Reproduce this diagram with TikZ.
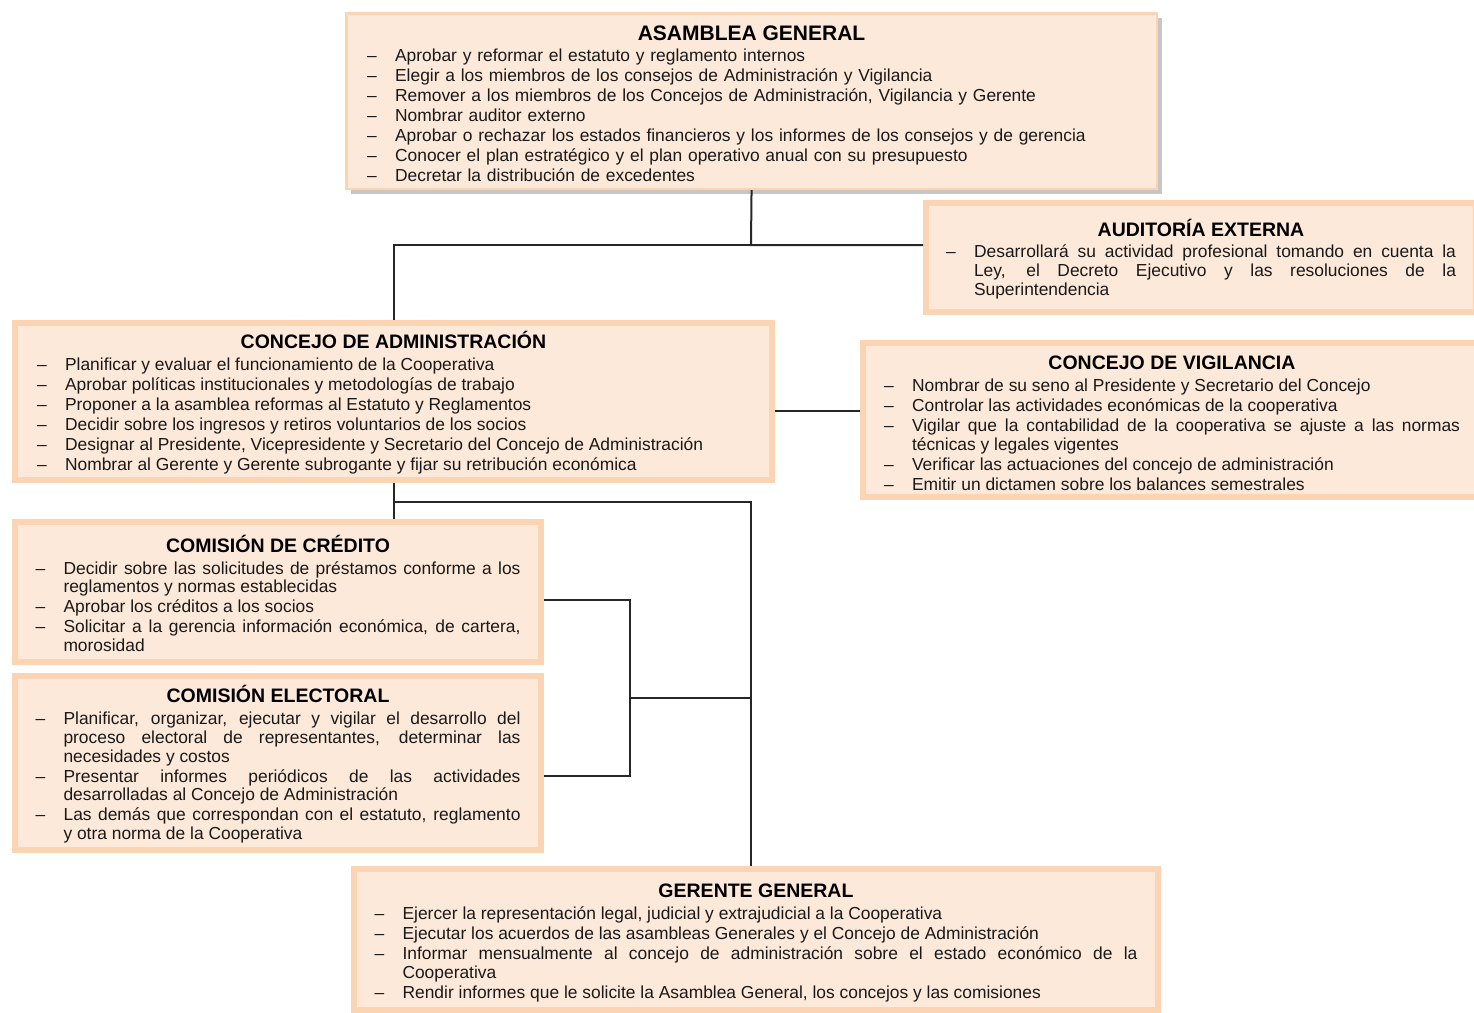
\documentclass[tikz,border=0pt]{standalone}
\usepackage{fontspec}
\setmainfont{Liberation Sans}
\usepackage{enumitem}
\usetikzlibrary{positioning,calc,shadows}

\definecolor{fondo}{RGB}{253,233,217}
\definecolor{borde}{RGB}{251,212,180}
\setlist[itemize]{nosep,label=\textendash,leftmargin=14pt,labelwidth=4.8pt,labelsep=9.2pt,align=left,itemsep=0.6pt}
\newcommand\titulo[2][9.75pt]{{\centering\fontsize{#1}{11pt}\selectfont\bfseries\color{black}\rule{0pt}{10pt}#2\par}\vspace{1.5pt}}

\begin{document}
\begin{tikzpicture}[x=0.5pt,y=-0.5pt]
	\tikzset{
		cargo/.style={draw=borde, fill=fondo, line width=3pt, anchor=north west, inner ysep=0pt, align=justify, text=black!90, font=\fontsize{8.7pt}{9.4pt}\selectfont},
		enlace/.style={line width=1pt, black!85},
	}
	\useasboundingbox (0,0) rectangle (1474,1013);
	
	% cajas
	\node[cargo, line width=1.25pt, align=left, inner xsep=10.4pt, text width=384.5pt, minimum height=87.75pt,
		drop shadow={shadow xshift=2.5pt, shadow yshift=-2.5pt, fill=black!50, opacity=.45}] (asamblea) at (345,12) {
		\titulo[10.5pt]{ASAMBLEA GENERAL}
		\begin{itemize}
			\item Aprobar y reformar el estatuto y reglamento internos
			\item Elegir a los miembros de los consejos de Administración y Vigilancia
			\item Remover a los miembros de los Concejos de Administración, Vigilancia y Gerente
			\item Nombrar auditor externo
			\item Aprobar o rechazar los estados financieros y los informes de los consejos y de gerencia
			\item Conocer el plan estratégico y el plan operativo anual con su presupuesto
			\item Decretar la distribución de excedentes
		\end{itemize}};
	
	\node[cargo, inner xsep=10pt, text width=255pt, minimum height=54.5pt] (auditoria) at (923,200) {
		\titulo{AUDITORÍA EXTERNA}
		\begin{itemize}
			\item Desarrollará su actividad profesional tomando en cuenta la \linebreak Ley, el Decreto Ejecutivo y las resoluciones de la \linebreak Superintendencia
		\end{itemize}};
	
	\node[cargo, inner xsep=11pt, text width=356.5pt, minimum height=78.5pt] (admin) at (12,320) {
		\titulo{CONCEJO DE ADMINISTRACIÓN}
		\begin{itemize}
			\item Planificar y evaluar el funcionamiento de la Cooperativa
			\item Aprobar políticas institucionales y metodologías de trabajo
			\item Proponer a la asamblea reformas al Estatuto y Reglamentos
			\item Decidir sobre los ingresos y retiros voluntarios de los socios
			\item Designar al Presidente, Vicepresidente y Secretario del Concejo de Administración
			\item Nombrar al Gerente y Gerente subrogante y fijar su retribución económica
		\end{itemize}};
	
	\node[cargo, inner xsep=10.5pt, text width=288pt, minimum height=77pt] (vigilancia) at (860,340) {
		\titulo{CONCEJO DE VIGILANCIA}
		\begin{itemize}
			\item Nombrar de su seno al Presidente y Secretario del Concejo
			\item Controlar las actividades económicas de la cooperativa
			\item Vigilar que la contabilidad de la cooperativa se ajuste a las normas \linebreak técnicas y legales vigentes
			\item Verificar las actuaciones del concejo de administración
			\item Emitir un dictamen sobre los balances semestrales
		\end{itemize}};
	
	\node[cargo, inner xsep=10.25pt, text width=242.5pt, minimum height=70pt] (credito) at (12,519) {
		\titulo{COMISIÓN DE CRÉDITO}
		\begin{itemize}
			\item Decidir sobre las solicitudes de préstamos conforme a los \linebreak reglamentos y normas establecidas
			\item Aprobar los créditos a los socios
			\item Solicitar a la gerencia información económica, de cartera, \linebreak morosidad
		\end{itemize}};
	
	\node[cargo, inner xsep=10.25pt, text width=242.5pt, minimum height=87pt] (electoral) at (12,673) {
		\titulo{COMISIÓN ELECTORAL}
		\begin{itemize}
			\item Planificar, organizar, ejecutar y vigilar el desarrollo del \linebreak proceso electoral de representantes, determinar las \linebreak necesidades y costos
			\item Presentar informes periódicos de las actividades \linebreak desarrolladas al Concejo de Administración
			\item Las demás que correspondan con el estatuto, reglamento \linebreak y otra norma de la Cooperativa
		\end{itemize}};
	
	\node[cargo, inner xsep=10.25pt, text width=381.5pt, minimum height=70.5pt] (gerente) at (351,866) {
		\titulo{GERENTE GENERAL}
		\begin{itemize}
			\item Ejercer la representación legal, judicial y extrajudicial a la Cooperativa
			\item Ejecutar los acuerdos de las asambleas Generales y el Concejo de Administración
			\item Informar mensualmente al concejo de administración sobre el estado económico de la \linebreak Cooperativa
			\item Rendir informes que le solicite la Asamblea General, los concejos y las comisiones
		\end{itemize}};
	
	% lineas
	\coordinate (cruce) at (751,245);
	\coordinate (tronco) at (751,502);
	\coordinate (corchete) at (630,698);
	
	\draw[enlace] (asamblea.south) -- (cruce) -- (cruce -| auditoria.west);
	\draw[enlace] (admin.north) |- (cruce);
	\draw[enlace] ([yshift=-4.75pt]admin.east) -- ([yshift=-4.75pt]admin.east -| vigilancia.west);
	\draw[enlace] (admin.south) -- (admin.south |- credito.north);
	\draw[enlace] (admin.south |- tronco) -- (tronco) -- (tronco |- gerente.north);
	\draw[enlace] ([yshift=-4pt]credito.east) -| (corchete) |- ([yshift=-6.5pt]electoral.east);
	\draw[enlace] (corchete) -- (corchete -| tronco);
\end{tikzpicture}
\end{document}
